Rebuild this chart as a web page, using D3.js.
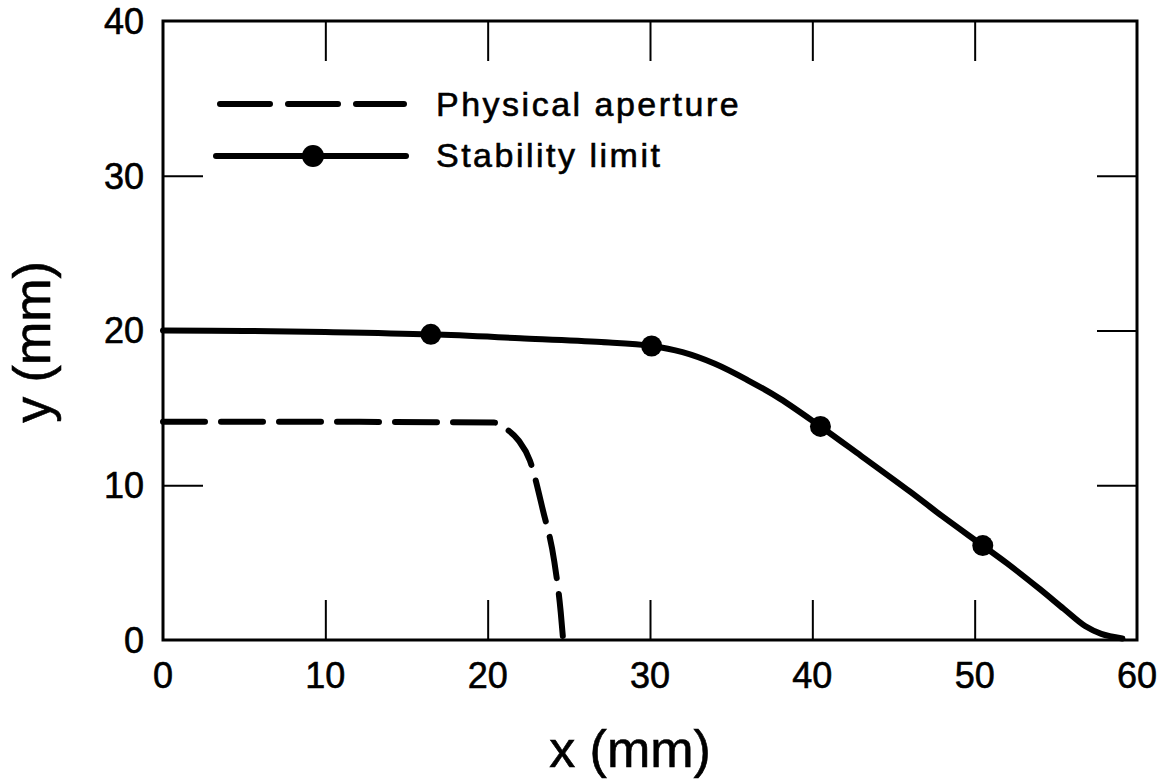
<!DOCTYPE html>
<html>
<head>
<meta charset="utf-8">
<script src="https://cdn.jsdelivr.net/npm/d3@7"></script>
<style>
  body { margin: 0; background: #fff; }
  svg { font-family: "Liberation Sans", Arial, Helvetica, sans-serif; }
  text { stroke: #000; stroke-width: 0.6px; fill: #000; }
</style>
</head>
<body>
<svg id="chart"></svg>
<script>
// Stability limit curve (x, y in mm)
const stabX = [0, 5, 10, 16.5, 22, 27, 30.1, 32, 34, 36, 38, 40.5, 43, 46, 48, 50.5, 52, 54, 55.5, 56.8, 57.8, 59.1];
const stabY = [20.0, 19.97, 19.9, 19.75, 19.5, 19.25, 19.0, 18.6, 17.85, 16.8, 15.6, 13.8, 11.9, 9.6, 8.0, 6.1, 4.95, 3.3, 2.0, 0.9, 0.4, 0.1];

// marked points on the stability limit
const markX = [16.5, 30.1, 40.5, 50.5];
const markY = [19.75, 19.0, 13.8, 6.1];

// Physical aperture curve
const apX = [0, 10, 20.4, 21.2, 21.9, 22.6, 23.4, 24.1, 24.5, 24.65];
const apY = [14.1, 14.1, 14.05, 13.6, 12.9, 11.6, 8.4, 5.1, 1.8, 0];

const xTicks = [0, 10, 20, 30, 40, 50, 60];
const yTicks = [0, 10, 20, 30, 40];
const legendLabels = ["Physical aperture", "Stability limit"];

const W = 1163, H = 783;
const margin = { top: 21, right: 26, bottom: 143, left: 163 };
const width = W - margin.left - margin.right;
const height = H - margin.top - margin.bottom;

const svg = d3.select("#chart").attr("width", W).attr("height", H);
const g = svg.append("g").attr("transform", `translate(${margin.left},${margin.top})`);

const x = d3.scaleLinear().domain([0, 60]).range([0, width]);
const y = d3.scaleLinear().domain([0, 40]).range([height, 0]);

// inward ticks on all four sides
const tickLen = 40;
g.append("g").attr("transform", `translate(0,${height})`)
  .call(d3.axisBottom(x).tickValues(xTicks.slice(1, -1)).tickSize(-tickLen).tickFormat(""));
g.append("g")
  .call(d3.axisTop(x).tickValues(xTicks.slice(1, -1)).tickSize(-tickLen).tickFormat(""));
g.append("g")
  .call(d3.axisLeft(y).tickValues(yTicks.slice(1, -1)).tickSize(-tickLen).tickFormat(""));
g.append("g").attr("transform", `translate(${width},0)`)
  .call(d3.axisRight(y).tickValues(yTicks.slice(1, -1)).tickSize(-tickLen).tickFormat(""));
g.selectAll(".domain").remove();
g.selectAll(".tick line").attr("stroke", "#000").attr("stroke-width", 2);

// frame
g.append("rect")
  .attr("width", width).attr("height", height)
  .attr("fill", "none").attr("stroke", "#000").attr("stroke-width", 3);

// tick labels
g.selectAll(".xlab").data(xTicks).enter().append("text")
  .attr("x", d => x(d)).attr("y", height + 48)
  .attr("text-anchor", "middle")
  .attr("font-size", 36)
  .text(d => d);
g.selectAll(".ylab").data(yTicks).enter().append("text")
  .attr("x", -19).attr("y", d => y(d)).attr("dy", "0.36em")
  .attr("text-anchor", "end")
  .attr("font-size", 36)
  .text(d => d);

// axis titles
svg.append("text")
  .attr("x", margin.left + width / 2 - 20).attr("y", 767)
  .attr("text-anchor", "middle").attr("font-size", 52)
  .text("x (mm)");
svg.append("text")
  .attr("transform", `translate(50,342) rotate(-90)`)
  .attr("text-anchor", "middle").attr("font-size", 52)
  .text("y (mm)");

// curves
const lineAp = d3.line().x(d => x(d[0])).y(d => y(d[1])).curve(d3.curveMonotoneX);
const lineStab = d3.line().x(d => x(d[0])).y(d => y(d[1])).curve(d3.curveCatmullRom.alpha(0.5));

g.append("path")
  .datum(apX.map((v, i) => [v, apY[i]]))
  .attr("fill", "none").attr("stroke", "#000").attr("stroke-width", 6)
  .attr("stroke-linecap", "round")
  .attr("stroke-dasharray", "42,16")
  .attr("d", lineAp);

g.append("path")
  .datum(stabX.map((v, i) => [v, stabY[i]]))
  .attr("fill", "none").attr("stroke", "#000").attr("stroke-width", 6)
  .attr("stroke-linecap", "round")
  .attr("d", lineStab);

g.selectAll(".mark").data(markX.map((v, i) => [v, markY[i]])).enter().append("circle")
  .attr("cx", d => x(d[0])).attr("cy", d => y(d[1]))
  .attr("r", 10.5).attr("fill", "#000");

// legend
const leg = svg.append("g");
leg.append("line")
  .attr("x1", 220).attr("x2", 404).attr("y1", 104).attr("y2", 104)
  .attr("stroke", "#000").attr("stroke-width", 6)
  .attr("stroke-linecap", "round").attr("stroke-dasharray", "50,18");
leg.append("line")
  .attr("x1", 216).attr("x2", 406).attr("y1", 156).attr("y2", 156)
  .attr("stroke", "#000").attr("stroke-width", 6).attr("stroke-linecap", "round");
leg.append("circle").attr("cx", 313).attr("cy", 156).attr("r", 11).attr("fill", "#000");
leg.selectAll(".ltext").data(legendLabels).enter().append("text")
  .attr("x", 436).attr("y", (d, i) => 116 + i * 51)
  .attr("font-size", 34)
  .attr("letter-spacing", 2.5)
  .text(d => d);
</script>
</body>
</html>
